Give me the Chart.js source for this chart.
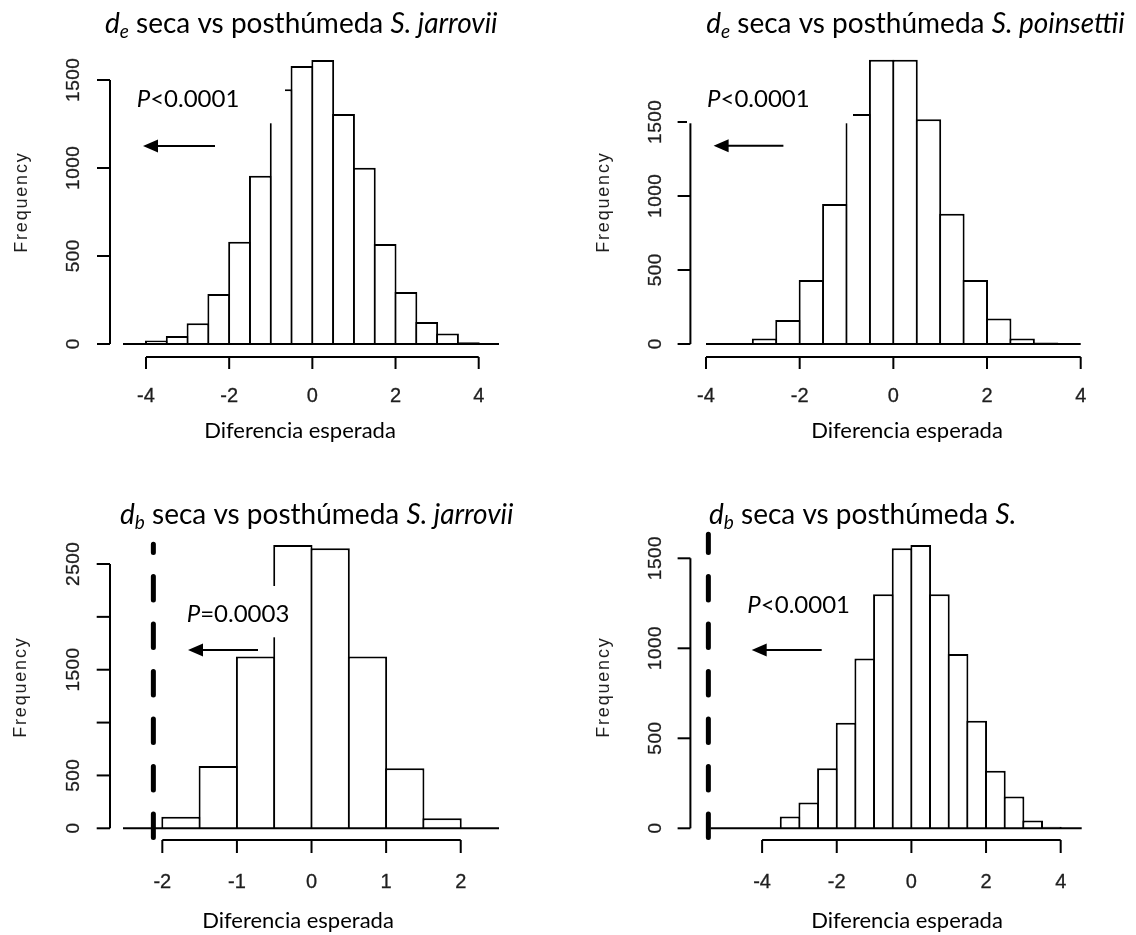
<!DOCTYPE html>
<html>
<head>
<meta charset="utf-8">
<script src="https://cdn.jsdelivr.net/npm/chart.js@4.4.1/dist/chart.umd.min.js"></script>
<style>
html, body { margin: 0; padding: 0; background: #ffffff; }
#lienzo { position: relative; width: 1136px; height: 935px; overflow: hidden; }
#lienzo canvas { position: absolute; left: 0; top: 0; }
</style>
</head>
<body>
<div id="lienzo">
  <canvas id="c1" width="1136" height="935"></canvas>
  <canvas id="c2" width="1136" height="935"></canvas>
  <canvas id="c3" width="1136" height="935"></canvas>
  <canvas id="c4" width="1136" height="935"></canvas>
</div>
<script>
//datos (histogramas, clases de ancho 0.5)
var ANCHO_CLASE = 0.5;
var centros16 = [-3.75, -3.25, -2.75, -2.25, -1.75, -1.25, -0.75, -0.25, 0.25, 0.75, 1.25, 1.75, 2.25, 2.75, 3.25, 3.75];
var centros8 = [-1.75, -1.25, -0.75, -0.25, 0.25, 0.75, 1.25, 1.75];

var frecDeJarrovii   = [20, 45, 118, 284, 581, 956, 1447, 1580, 1614, 1307, 1002, 568, 295, 125, 59, 10];
var frecDePoinsettii = [0, 0, 38, 162, 432, 946, 1554, 1920, 1920, 1518, 880, 432, 173, 38, 11, 0];
var frecDbJarrovii   = [110, 590, 1624, 2680, 2649, 1624, 568, 95];
var frecDbS          = [0, 65, 144, 333, 587, 944, 1300, 1556, 1574, 1300, 968, 598, 320, 176, 43, 9];

//valores observados (linea discontinua)
var observadoDbJarrovii = -2.12;
var observadoDbS = -5.44;

//marcas de los ejes
var ticksX4 = [-4, -2, 0, 2, 4];
var ticksX2 = [-2, -1, 0, 1, 2];
var ticksY1500 = [0, 500, 1000, 1500];
var etiquetasY1500 = ['0', '500', '1000', '1500'];
var ticksY2500 = [0, 500, 1000, 1500, 2000, 2500];
var etiquetasY2500 = ['0', '500', '', '1500', '', '2500'];

//textos
var titulo1 = [ { t: 'd', it: true }, { t: 'e', it: true, sub: true }, { t: ' seca vs posthúmeda ' }, { t: 'S. jarrovii', it: true } ];
var titulo2 = [ { t: 'd', it: true }, { t: 'e', it: true, sub: true }, { t: ' seca vs posthúmeda ' }, { t: 'S. poinsettii', it: true } ];
var titulo3 = [ { t: 'd', it: true }, { t: 'b', it: true, sub: true }, { t: ' seca vs posthúmeda ' }, { t: 'S. jarrovii', it: true } ];
var titulo4 = [ { t: 'd', it: true }, { t: 'b', it: true, sub: true }, { t: ' seca vs posthúmeda ' }, { t: 'S.', it: true } ];
var pMenor = [ { t: 'P', it: true }, { t: '<0.0001' } ];
var pIgual = [ { t: 'P', it: true }, { t: '=0.0003' } ];
var etiquetaEjeX = 'Diferencia esperada';
var etiquetaEjeY = 'Frequency';

var FUENTE_R = '"Liberation Sans", Arial, sans-serif';
var FUENTE_WORD = 'Lato, "Open Sans", sans-serif';
var COLOR_TICK = '#1e1e1e';

//paneles (posiciones y rangos de ejes)
var paneles = [
  {
    canvas: 'c1', centros: centros16, frecuencias: frecDeJarrovii, observado: null,
    ticksX: ticksX4, ticksY: ticksY1500, etiquetasY: etiquetasY1500,
    area: { left: 123, top: 40, right: 499, bottom: 357 },
    xMin: -4.553, xMax: 4.488, yMin: -73.9, yMax: 1727.3,
    ejeY: { sep: 13, tick: 13, sepEtq: 37.5, sepFreq: 87.5, freqY: 203 },
    ejeX: { tick: 12, sepEtq: 44.7 },
    titulo: { segs: titulo1, x: 105, y: 33.3 },
    pval: { segs: pMenor, x: 136.7, y: 106.7 },
    flecha: { x1: 215, x2: 143, y: 146 },
    caja: { l: 125, t: 65, r: 285, b: 123.3 },
    etqX: { x: 300, y: 438 }
  },
  {
    canvas: 'c2', centros: centros16, frecuencias: frecDePoinsettii, observado: null,
    ticksX: ticksX4, ticksY: ticksY1500, etiquetasY: etiquetasY1500,
    area: { left: 706, top: 40, right: 1080.7, bottom: 357 },
    xMin: -4, xMax: 4, yMin: -87.8, yMax: 2054.1,
    ejeY: { sep: 15.6, tick: 12.8, sepEtq: 36.7, sepFreq: 86.3, freqY: 203 },
    ejeX: { tick: 12, sepEtq: 44.7 },
    titulo: { segs: titulo2, x: 706.2, y: 33.3 },
    pval: { segs: pMenor, x: 707, y: 106.7 },
    flecha: { x1: 783.4, x2: 713.6, y: 145.7 },
    caja: { l: 687, t: 70, r: 853, b: 123.3 },
    etqX: { x: 907, y: 438 }
  },
  {
    canvas: 'c3', centros: centros8, frecuencias: frecDbJarrovii, observado: observadoDbJarrovii,
    ticksX: ticksX2, ticksY: ticksY2500, etiquetasY: etiquetasY2500,
    area: { left: 123, top: 541.7, right: 499, bottom: 840 },
    xMin: -2.527, xMax: 2.513, yMin: -110.7, yMax: 2710.9,
    ejeY: { sep: 13, tick: 13.3, sepEtq: 37.5, sepFreq: 88.3, freqY: 688 },
    ejeX: { tick: 13, sepEtq: 48 },
    titulo: { segs: titulo3, x: 120, y: 524 },
    pval: { segs: pIgual, x: 186.7, y: 621.7 },
    flecha: { x1: 258, x2: 188, y: 650 },
    caja: { l: 180, t: 586, r: 290, b: 637.3 },
    etqX: { x: 298, y: 928 }
  },
  {
    canvas: 'c4', centros: centros16, frecuencias: frecDbS, observado: observadoDbS,
    ticksX: ticksX4, ticksY: ticksY1500, etiquetasY: etiquetasY1500,
    area: { left: 710.6, top: 531.7, right: 1081.7, bottom: 840 },
    xMin: -5.380, xMax: 4.563, yMin: -65, yMax: 1647.8,
    ejeY: { sep: 20.2, tick: 12.8, sepEtq: 36.7, sepFreq: 86.3, freqY: 688 },
    ejeX: { tick: 13, sepEtq: 48 },
    titulo: { segs: titulo4, x: 709, y: 524 },
    pval: { segs: pMenor, x: 747.3, y: 613.3 },
    flecha: { x1: 821.7, x2: 751.7, y: 650 },
    caja: { l: 740, t: 585, r: 860, b: 625 },
    etqX: { x: 907, y: 928 }
  }
];

function segmento( ctx, x1, y1, x2, y2 )
{
  ctx.beginPath();
  ctx.moveTo( x1, y1 );
  ctx.lineTo( x2, y2 );
  ctx.stroke();
}

function textoMixto( ctx, segs, x, y, tam )
{
  ctx.textAlign = 'left';
  ctx.textBaseline = 'alphabetic';
  segs.forEach( s =>
  {
    let f = s.sub ? tam * 0.68 : tam;
    ctx.font = ( s.it ? 'italic ' : '' ) + f + 'px ' + FUENTE_WORD;
    ctx.fillText( s.t, x, y + ( s.sub ? 5 : 0 ) );
    x += ctx.measureText( s.t ).width;
  });
}

//texto de R: un poco mas grueso, como en la imagen original
function textoR( ctx, texto, x, y, grosor )
{
  ctx.fillText( texto, x, y );
  if ( grosor > 0 )
  {
    ctx.lineWidth = grosor;
    ctx.strokeStyle = COLOR_TICK;
    ctx.strokeText( texto, x, y );
  }
}

function rotado( ctx, texto, cx, cy, tam, espaciado, altoTinta, grosor )
{
  ctx.save();
  ctx.translate( cx + altoTinta * tam, cy );
  ctx.rotate( -Math.PI / 2 );
  ctx.font = tam + 'px ' + FUENTE_R;
  ctx.letterSpacing = espaciado + 'px';
  ctx.textAlign = 'center';
  ctx.textBaseline = 'alphabetic';
  ctx.fillStyle = COLOR_TICK;
  textoR( ctx, texto, espaciado / 2, 0, grosor );
  ctx.restore();
}

//ejes estilo R, cajas de texto, flechas y linea del valor observado
function pluginR( p )
{
  return {
    id: 'ejesR',
    afterDatasetsDraw: function ( chart )
    {
      let ctx = chart.ctx, sx = chart.scales.x, sy = chart.scales.y, a = chart.chartArea;
      ctx.save();
      ctx.strokeStyle = '#000';
      ctx.fillStyle = '#000';
      ctx.lineWidth = 2;

      //linea base
      let y0 = sy.getPixelForValue( 0 );
      segmento( ctx, a.left, y0, a.right, y0 );

      //eje x
      let yb = a.bottom;
      segmento( ctx, sx.getPixelForValue( p.ticksX[ 0 ] ), yb, sx.getPixelForValue( p.ticksX[ p.ticksX.length - 1 ] ), yb );
      p.ticksX.forEach( v =>
      {
        let x = sx.getPixelForValue( v );
        ctx.lineWidth = 2;
        ctx.strokeStyle = '#000';
        segmento( ctx, x, yb, x, yb + p.ejeX.tick );
        ctx.fillStyle = COLOR_TICK;
        ctx.font = '20px ' + FUENTE_R;
        ctx.textAlign = 'center';
        ctx.textBaseline = 'alphabetic';
        textoR( ctx, String( v ), x, yb + p.ejeX.sepEtq, 0.3 );
      });

      //eje y
      ctx.lineWidth = 2;
      ctx.strokeStyle = '#000';
      let ex = a.left - p.ejeY.sep;
      segmento( ctx, ex, sy.getPixelForValue( p.ticksY[ 0 ] ), ex, sy.getPixelForValue( p.ticksY[ p.ticksY.length - 1 ] ) );
      p.ticksY.forEach( ( v, i ) =>
      {
        let y = sy.getPixelForValue( v );
        ctx.lineWidth = 2;
        ctx.strokeStyle = '#000';
        segmento( ctx, ex - p.ejeY.tick, y, ex, y );
        if ( p.etiquetasY[ i ] !== '' )
        {
          rotado( ctx, p.etiquetasY[ i ], ex - p.ejeY.sepEtq, y, 19, 0.5, 0.358, 0.3 );
        }
      });
      rotado( ctx, etiquetaEjeY, ex - p.ejeY.sepFreq, p.ejeY.freqY, 18, 1.8, 0.253, 0 );

      //caja de texto (fondo blanco, tapa parte de las barras)
      ctx.fillStyle = '#ffffff';
      ctx.fillRect( p.caja.l, p.caja.t, p.caja.r - p.caja.l, p.caja.b - p.caja.t );

      //valor P y flecha
      ctx.fillStyle = '#000';
      ctx.strokeStyle = '#000';
      textoMixto( ctx, p.pval.segs, p.pval.x, p.pval.y, 24 );
      ctx.lineWidth = 2;
      segmento( ctx, p.flecha.x1, p.flecha.y, p.flecha.x2 + 12, p.flecha.y );
      ctx.beginPath();
      ctx.moveTo( p.flecha.x2, p.flecha.y );
      ctx.lineTo( p.flecha.x2 + 15, p.flecha.y - 6.5 );
      ctx.lineTo( p.flecha.x2 + 15, p.flecha.y + 6.5 );
      ctx.closePath();
      ctx.fill();

      //valor observado
      if ( p.observado !== null )
      {
        let xo = sx.getPixelForValue( p.observado );
        ctx.lineWidth = 5;
        ctx.lineCap = 'round';
        ctx.setLineDash( [ 23.5, 24 ] );
        segmento( ctx, xo, a.bottom - 2.5, xo, a.top + 2.5 );
        ctx.setLineDash( [] );
        ctx.lineCap = 'butt';
      }

      //titulo y etiqueta del eje x
      textoMixto( ctx, p.titulo.segs, p.titulo.x, p.titulo.y, 28 );
      ctx.font = '22px ' + FUENTE_WORD;
      ctx.textAlign = 'center';
      ctx.fillText( etiquetaEjeX, p.etqX.x, p.etqX.y );

      ctx.restore();
    }
  };
}

function crearPanel( p )
{
  let a = p.area;
  let pxUnidad = ( a.right - a.left ) / ( p.xMax - p.xMin );
  let puntos = p.centros.map( ( c, i ) => ( { x: c, y: p.frecuencias[ i ] } ) );

  return new Chart( document.getElementById( p.canvas ).getContext( '2d' ),
  {
    type: 'bar',
    data:
    {
      datasets:
      [
        {
          data: puntos,
          backgroundColor: '#ffffff',
          borderColor: '#000000',
          borderWidth: 2,
          borderSkipped: 'start',
          barThickness: ANCHO_CLASE * pxUnidad + 2,
          inflateAmount: 0
        }
      ]
    },
    options:
    {
      responsive: false,
      animation: false,
      events: [],
      layout: { padding: { left: a.left, top: a.top, right: 1136 - a.right, bottom: 935 - a.bottom } },
      plugins: { legend: { display: false }, tooltip: { enabled: false }, title: { display: false } },
      scales:
      {
        x: { type: 'linear', min: p.xMin, max: p.xMax, offset: false, display: false },
        y: { type: 'linear', min: p.yMin, max: p.yMax, display: false }
      }
    },
    plugins: [ pluginR( p ) ]
  });
}

paneles.forEach( crearPanel );
</script>
</body>
</html>
